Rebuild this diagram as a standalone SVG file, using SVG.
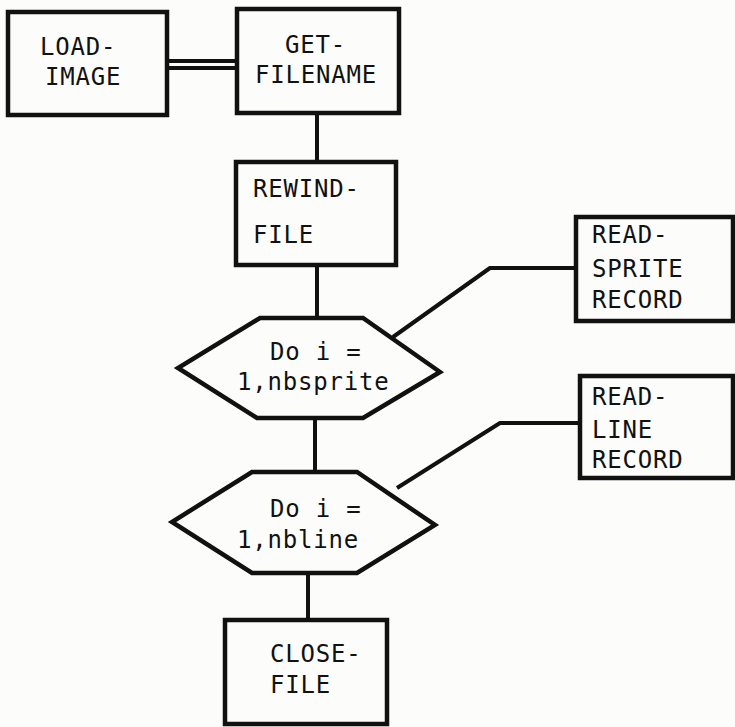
<svg xmlns="http://www.w3.org/2000/svg" width="735" height="727" viewBox="0 0 735 727">
<style>
.box{fill:none;stroke:#111;stroke-width:4.5;stroke-linejoin:miter}
.hex{fill:none;stroke:#111;stroke-width:4.5;stroke-linejoin:miter}
.conn{fill:none;stroke:#111;stroke-width:4;stroke-linejoin:round}
text{font-family:"DejaVu Sans Mono","Liberation Mono",monospace;font-size:24px;fill:#111;letter-spacing:0.8px}
</style>
<rect width="735" height="727" fill="#fcfcfa"/>
<g id="connectors">
<line class="conn" x1="167" y1="61" x2="237" y2="61" stroke-width="3"/>
<line class="conn" x1="167" y1="68" x2="237" y2="68" stroke-width="3"/>
<line class="conn" x1="317" y1="113" x2="317" y2="162"/>
<line class="conn" x1="317" y1="265" x2="317" y2="318"/>
<line class="conn" x1="315" y1="418" x2="315" y2="472"/>
<line class="conn" x1="308" y1="573" x2="308" y2="620"/>
<polyline class="conn" points="393,337 490,268 576,268"/>
<polyline class="conn" points="397,488 500,423 580,423"/>
</g>
<g id="load-image">
<rect class="box" x="8" y="12" width="159" height="103"/>
<text x="40" y="55">LOAD-</text>
<text x="45" y="85">IMAGE</text>
</g>
<g id="get-filename">
<rect class="box" x="237" y="9" width="162" height="104"/>
<text x="285" y="53">GET-</text>
<text x="255" y="83">FILENAME</text>
</g>
<g id="rewind-file">
<rect class="box" x="236" y="162" width="160" height="103"/>
<text x="253" y="197">REWIND-</text>
<text x="253" y="243">FILE</text>
</g>
<g id="loop-sprite">
<polygon class="hex" points="260,318 363,318 440,372 363,418 257,418 178,368"/>
<text x="270" y="360">Do i =</text>
<text x="237" y="390">1,nbsprite</text>
</g>
<g id="read-sprite-record">
<rect class="box" x="576" y="217" width="157" height="104"/>
<text x="592" y="243">READ-</text>
<text x="592" y="277">SPRITE</text>
<text x="592" y="308">RECORD</text>
</g>
<g id="loop-line">
<polygon class="hex" points="252,472 357,472 435,525 357,573 252,573 172,522"/>
<text x="270" y="517">Do i =</text>
<text x="237" y="548">1,nbline</text>
</g>
<g id="read-line-record">
<rect class="box" x="580" y="376" width="153" height="102"/>
<text x="592" y="405">READ-</text>
<text x="592" y="438">LINE</text>
<text x="592" y="468">RECORD</text>
</g>
<g id="close-file">
<rect class="box" x="225" y="620" width="162" height="104"/>
<text x="270" y="662">CLOSE-</text>
<text x="270" y="693">FILE</text>
</g>
</svg>
